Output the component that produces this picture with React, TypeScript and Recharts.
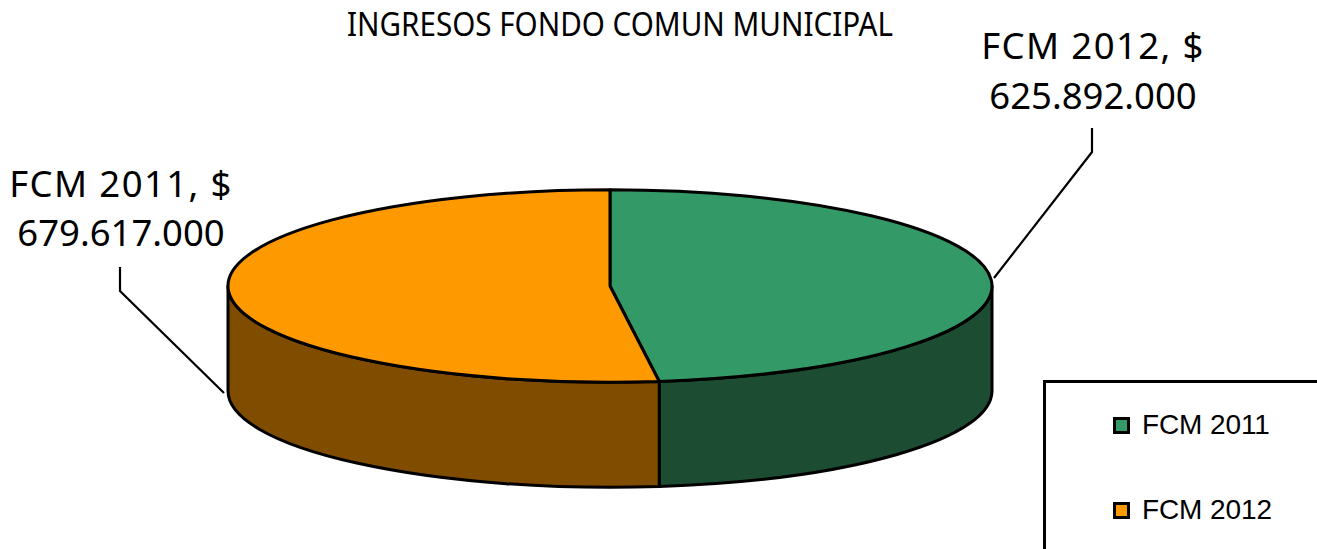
import { PieChart, Pie, Legend } from 'recharts'

// ─── Data ─────────────────────────────────────────────────────────────────────

// the source chart's legend and its data labels disagree on the year, kept as drawn
const LEGEND_NAMES = ['FCM 2011', 'FCM 2012']
const LABEL_NAMES = ['FCM 2012', 'FCM 2011']
const LABEL_VALUES = ['625.892.000', '679.617.000']
const VALUES = [625892000, 679617000]
const TOP_COLORS = ['#339966', '#FF9900']
const SIDE_COLORS = ['#1C4D33', '#804D00']

const TITLE = 'INGRESOS FONDO COMUN MUNICIPAL'

const chartData = VALUES.map((value, i) => ({
  name: LEGEND_NAMES[i],
  value,
  fill: TOP_COLORS[i],
  sideFill: SIDE_COLORS[i],
  labelName: LABEL_NAMES[i],
  labelValue: LABEL_VALUES[i],
}))

// ─── Layout ───────────────────────────────────────────────────────────────────

const WIDTH = 1317
const HEIGHT = 549
const TILT = 0.252 // vertical squash of the pie ellipse
const DEPTH = 105
const OUTLINE = 3

// label text centre and leader line per slice
const LABEL_LAYOUT = [
  { x: 1093, y1: 59, y2: 109, line: '1092,128 1092,152 994,278' },
  { x: 121, y1: 197, y2: 246, line: '120,267 120,291 224,393' },
]

const RAD = Math.PI / 180

// ─── Custom slice: squashed top plus the visible part of the side wall ────────

function TiltedSlice(props: any) {
  const { cx, cy, outerRadius: rx, startAngle, endAngle, fill, sideFill } = props
  const ry = rx * TILT
  const pt = (a: number) => [cx + rx * Math.cos(a * RAD), cy - ry * Math.sin(a * RAD)]

  const [sx, sy] = pt(startAngle)
  const [ex, ey] = pt(endAngle)
  const large = Math.abs(startAngle - endAngle) > 180 ? 1 : 0
  const top = `M${cx},${cy} L${sx},${sy} A${rx},${ry} 0 ${large} 1 ${ex},${ey} Z`

  // only angles between 0 and -180 face the viewer
  const wallStart = Math.min(startAngle, 0)
  const wallEnd = Math.max(endAngle, -180)
  let wall = ''
  if (wallStart > wallEnd) {
    const [ax, ay] = pt(wallStart)
    const [bx, by] = pt(wallEnd)
    wall =
      `M${ax},${ay} A${rx},${ry} 0 0 1 ${bx},${by} L${bx},${by + DEPTH} ` +
      `A${rx},${ry} 0 0 0 ${ax},${ay + DEPTH} Z`
  }

  return (
    <g stroke="#000" strokeWidth={OUTLINE} strokeLinejoin="round">
      {wall && <path d={wall} fill={sideFill} />}
      <path d={top} fill={fill} />
    </g>
  )
}

// ─── Data label with leader line ──────────────────────────────────────────────

function SliceLabel(props: any) {
  const { index, payload } = props
  const pos = LABEL_LAYOUT[index]
  const entry = payload?.payload ?? payload
  const style = { fontFamily: '"Noto Sans"', fontSize: 36.5, fill: '#000' }
  return (
    <g>
      <text x={pos.x} y={pos.y1} textAnchor="middle" letterSpacing={1.4} style={style}>
        {`${entry.labelName}, $`}
      </text>
      <text x={pos.x} y={pos.y2} textAnchor="middle" style={style}>
        {entry.labelValue}
      </text>
      <polyline points={pos.line} fill="none" stroke="#000" strokeWidth={2.2} />
    </g>
  )
}

// ─── Legend ───────────────────────────────────────────────────────────────────

function LegendBox({ payload }: any) {
  return (
    <div
      style={{
        boxSizing: 'border-box',
        width: 320,
        height: 220,
        background: '#fff',
        border: '3px solid #000',
        fontFamily: '"Liberation Sans"',
        fontSize: 28,
        color: '#000',
        position: 'relative',
      }}
    >
      {(payload ?? []).map((item: any, i: number) => (
        <div
          key={i}
          style={{
            position: 'absolute',
            left: 67,
            top: 24 + i * 85,
            display: 'flex',
            alignItems: 'center',
            height: 36,
            whiteSpace: 'nowrap',
            letterSpacing: -0.1,
          }}
        >
          <span
            style={{
              boxSizing: 'border-box',
              width: 17,
              height: 17,
              marginRight: 12,
              border: '3px solid #000',
              background: item.color,
            }}
          />
          {LEGEND_NAMES[i]}
        </div>
      ))}
    </div>
  )
}

// ─── Chart ────────────────────────────────────────────────────────────────────

export default function App() {
  return (
    <div
      style={{
        position: 'absolute',
        left: 0,
        top: 0,
        width: WIDTH,
        height: HEIGHT,
        overflow: 'hidden',
        background: '#fff',
      }}
    >
      <PieChart width={WIDTH} height={HEIGHT} margin={{ top: 0, right: 0, bottom: 0, left: 0 }}>
        <text
          x={347}
          y={36}
          textLength={546}
          lengthAdjust="spacingAndGlyphs"
          style={{ fontFamily: '"Noto Sans"', fontSize: 32, fill: '#000' }}
        >
          {TITLE}
        </text>
        <Pie
          data={chartData}
          dataKey="value"
          nameKey="name"
          cx={610}
          cy={286}
          innerRadius={0}
          outerRadius={382}
          startAngle={90}
          endAngle={-270}
          paddingAngle={0}
          shape={TiltedSlice}
          label={SliceLabel}
          labelLine={false}
          isAnimationActive={false}
        />
        <Legend
          content={LegendBox}
          wrapperStyle={{ left: 1043, top: 380, width: 320, height: 220, bottom: 'auto' }}
        />
      </PieChart>
    </div>
  )
}
